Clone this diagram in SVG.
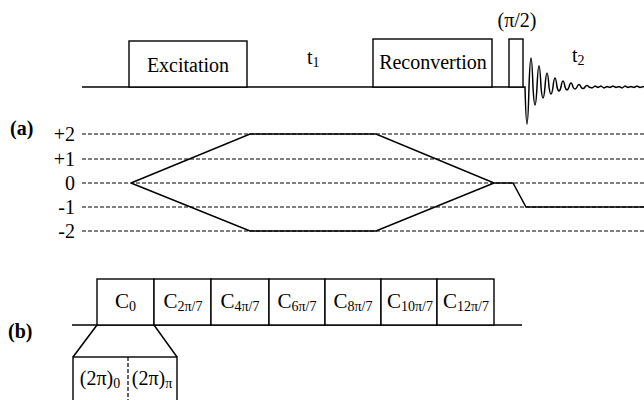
<svg xmlns="http://www.w3.org/2000/svg" width="644" height="400" viewBox="0 0 644 400">
<style>
text{font-family:"Liberation Serif","Times New Roman",serif;font-size:20px;fill:#000}
.sub{font-size:14px}
.cl{font-size:21px}
.lab{font-weight:bold}
.ln{stroke:#000;stroke-width:1.5;fill:none}
.box{stroke:#000;stroke-width:1.4;fill:#fff}
.dash{stroke:#000;stroke-width:1.2;stroke-dasharray:4 2;fill:none}
.mid{text-anchor:middle}
.end{text-anchor:end}
</style>
<g id="sequence">
<line class="ln" x1="82" y1="87" x2="523" y2="87"/>
<g id="excitation"><rect class="box" x="129" y="41" width="118" height="46"/><text class="mid" x="188" y="72">Excitation</text></g>
<g id="t1"><text x="307" y="64">t<tspan class="sub" font-size="12" dy="3">1</tspan></text></g>
<g id="reconvertion"><rect class="box" x="373" y="39" width="119" height="48"/><text class="mid" x="433" y="69">Reconvertion</text></g>
<g id="pulse"><rect class="box" x="509" y="39" width="14" height="48"/><text class="mid" x="517" y="27">(π/2)</text></g>
<g id="t2"><text x="572" y="62">t<tspan class="sub" dy="3">2</tspan></text></g>
<g id="fid"><path class="ln" stroke-width="1.3" d="M523,87 L525,87 Q527,161 529,87 Q531,29 533,87 Q535,123 537,87 Q539,45 541,87 Q543,109 545,87 Q547,59 549,87 Q551,101 553,87 Q555,69 557,87 Q559,95 561,87 Q563,75 565,87 Q567,93 569,87 Q571,79 573,87 Q575,91 577,87 Q579,82 581,87 Q583,90 585,87 Q587,84 589,87 L592,88 L595,86 L598,87.5 L601,86 L604,88 L607,86.5 L610,87.5 L613,86 L616,87.5 L619,86.5 L622,88 L625,86 L628,87.5 L631,86.5 L634,87.5 L637,86 L640,87.5 L644,86.5"/></g>
</g>
<g id="label-a"><text class="lab" x="10" y="135">(a)</text></g>
<g id="levels">
<text class="end" x="75" y="141">+2</text>
<text class="end" x="75" y="166">+1</text>
<text class="end" x="75" y="190">0</text>
<text class="end" x="75" y="214">-1</text>
<text class="end" x="75" y="238">-2</text>
<line class="dash" x1="82" y1="134" x2="644" y2="134"/>
<line class="dash" x1="82" y1="159" x2="644" y2="159"/>
<line class="dash" x1="82" y1="183" x2="644" y2="183"/>
<line class="dash" x1="82" y1="207" x2="644" y2="207"/>
<line class="dash" x1="82" y1="231" x2="644" y2="231"/>
</g>
<g id="connectors">
<polyline class="ln" points="131,183 250,134 376,134 494,183 513,183 526,207 644,207"/>
<polyline class="ln" points="131,183 250,231 376,231 494,183"/>
<line class="ln" x1="97" y1="325" x2="73" y2="357"/>
<line class="ln" x1="154" y1="325" x2="177" y2="357"/>
</g>
<g id="label-b"><text class="lab" x="8" y="338">(b)</text></g>
<g id="cycles">
<line class="ln" x1="72" y1="325" x2="522" y2="325"/>
<g id="c0"><rect class="box" x="97" y="279" width="57" height="46"/><text class="mid cl" x="125.5" y="308">C<tspan class="sub" dy="3">0</tspan></text></g>
<g id="c2"><rect class="box" x="154" y="279" width="57" height="46"/><text class="mid cl" x="183" y="308">C<tspan class="sub" dy="3">2π/7</tspan></text></g>
<g id="c4"><rect class="box" x="211" y="279" width="58" height="46"/><text class="mid cl" x="240" y="308">C<tspan class="sub" dy="3">4π/7</tspan></text></g>
<g id="c6"><rect class="box" x="269" y="279" width="56" height="46"/><text class="mid cl" x="297" y="308">C<tspan class="sub" dy="3">6π/7</tspan></text></g>
<g id="c8"><rect class="box" x="325" y="279" width="56" height="46"/><text class="mid cl" x="353" y="308">C<tspan class="sub" dy="3">8π/7</tspan></text></g>
<g id="c10"><rect class="box" x="381" y="279" width="56" height="46"/><text class="mid cl" x="410" y="308">C<tspan class="sub" dy="3">10π/7</tspan></text></g>
<g id="c12"><rect class="box" x="437" y="279" width="57" height="46"/><text class="mid cl" x="466" y="308">C<tspan class="sub" dy="3">12π/7</tspan></text></g>
</g>
<g id="expansion">
<rect class="box" x="73" y="357" width="104" height="60"/>
<line class="dash" x1="128" y1="357" x2="128" y2="400"/>
<text class="mid" x="100" y="385">(2π)<tspan class="sub" dy="3">0</tspan></text>
<text class="mid" x="152" y="385">(2π)<tspan class="sub" dy="3">π</tspan></text>
</g>
</svg>
